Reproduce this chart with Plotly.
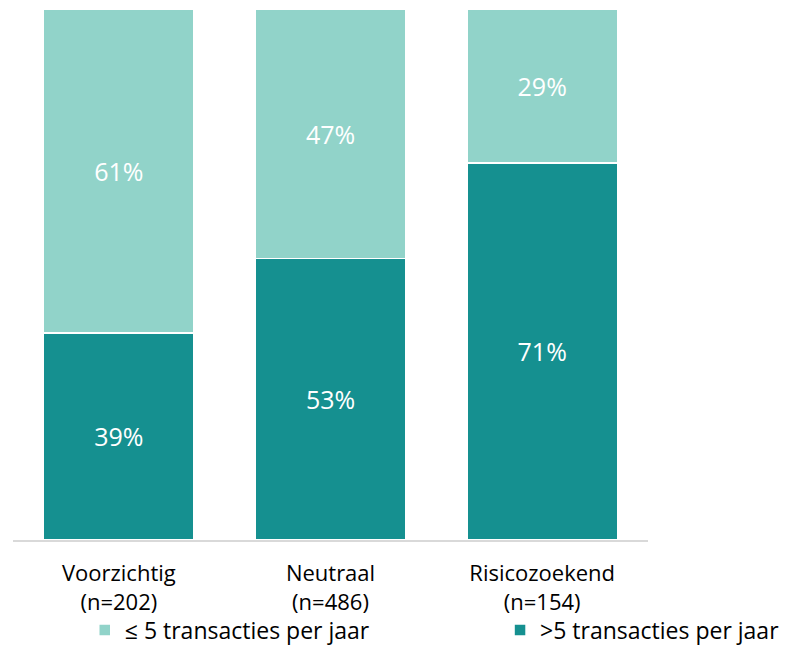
import plotly.graph_objects as go

categories = ["Voorzichtig<br>(n=202)", "Neutraal<br>(n=486)", "Risicozoekend<br>(n=154)"]
high_freq = [39, 53, 71]   # >5 transacties per jaar
low_freq = [61, 47, 29]    # ≤ 5 transacties per jaar

dark = "#159090"
light = "#91D3C9"
font_family = "'Open Sans', sans-serif"
fs = 25

fig = go.Figure()
fig.add_trace(go.Bar(
    x=categories, y=high_freq, name=">5 transacties per jaar",
    marker=dict(color=dark, line=dict(color="white", width=1.5)),
    text=[f"{v}%" for v in high_freq], textposition="inside", insidetextanchor="middle",
    textfont=dict(color="white", size=fs, family=font_family), legend="legend2",
))
fig.add_trace(go.Bar(
    x=categories, y=low_freq, name="≤ 5 transacties per jaar",
    marker=dict(color=light, line=dict(color="white", width=1.5)),
    text=[f"{v}%" for v in low_freq], textposition="inside", insidetextanchor="middle",
    textfont=dict(color="white", size=fs, family=font_family), legend="legend",
))

leg_common = dict(orientation="h", y=-0.1695, yanchor="middle", xanchor="left",
                  font=dict(size=23, color="#000000", family=font_family),
                  bgcolor="rgba(0,0,0,0)", borderwidth=0)

# page body has an 8px offset, so the figure is 802x663 inside the 810x671 window
fig.update_layout(
    barmode="stack", bargap=0.29,
    width=802, height=663,
    margin=dict(l=5, r=162, t=1, b=131, autoexpand=False),
    plot_bgcolor="white", paper_bgcolor="white",
    font=dict(family=font_family, size=fs, color="#000000"),
    uniformtext=dict(minsize=16, mode="show"),
    xaxis=dict(showline=True, linecolor="#D9D9D9", linewidth=1.5, ticks="", showgrid=False,
               tickfont=dict(size=22, color="#000000"), ticklabelstandoff=13),
    yaxis=dict(range=[0, 100], visible=False, showgrid=False),
    legend=dict(x=0.113, **leg_common),
    legend2=dict(x=0.767, **leg_common),
    showlegend=True,
)

fig.write_html("out.html")
